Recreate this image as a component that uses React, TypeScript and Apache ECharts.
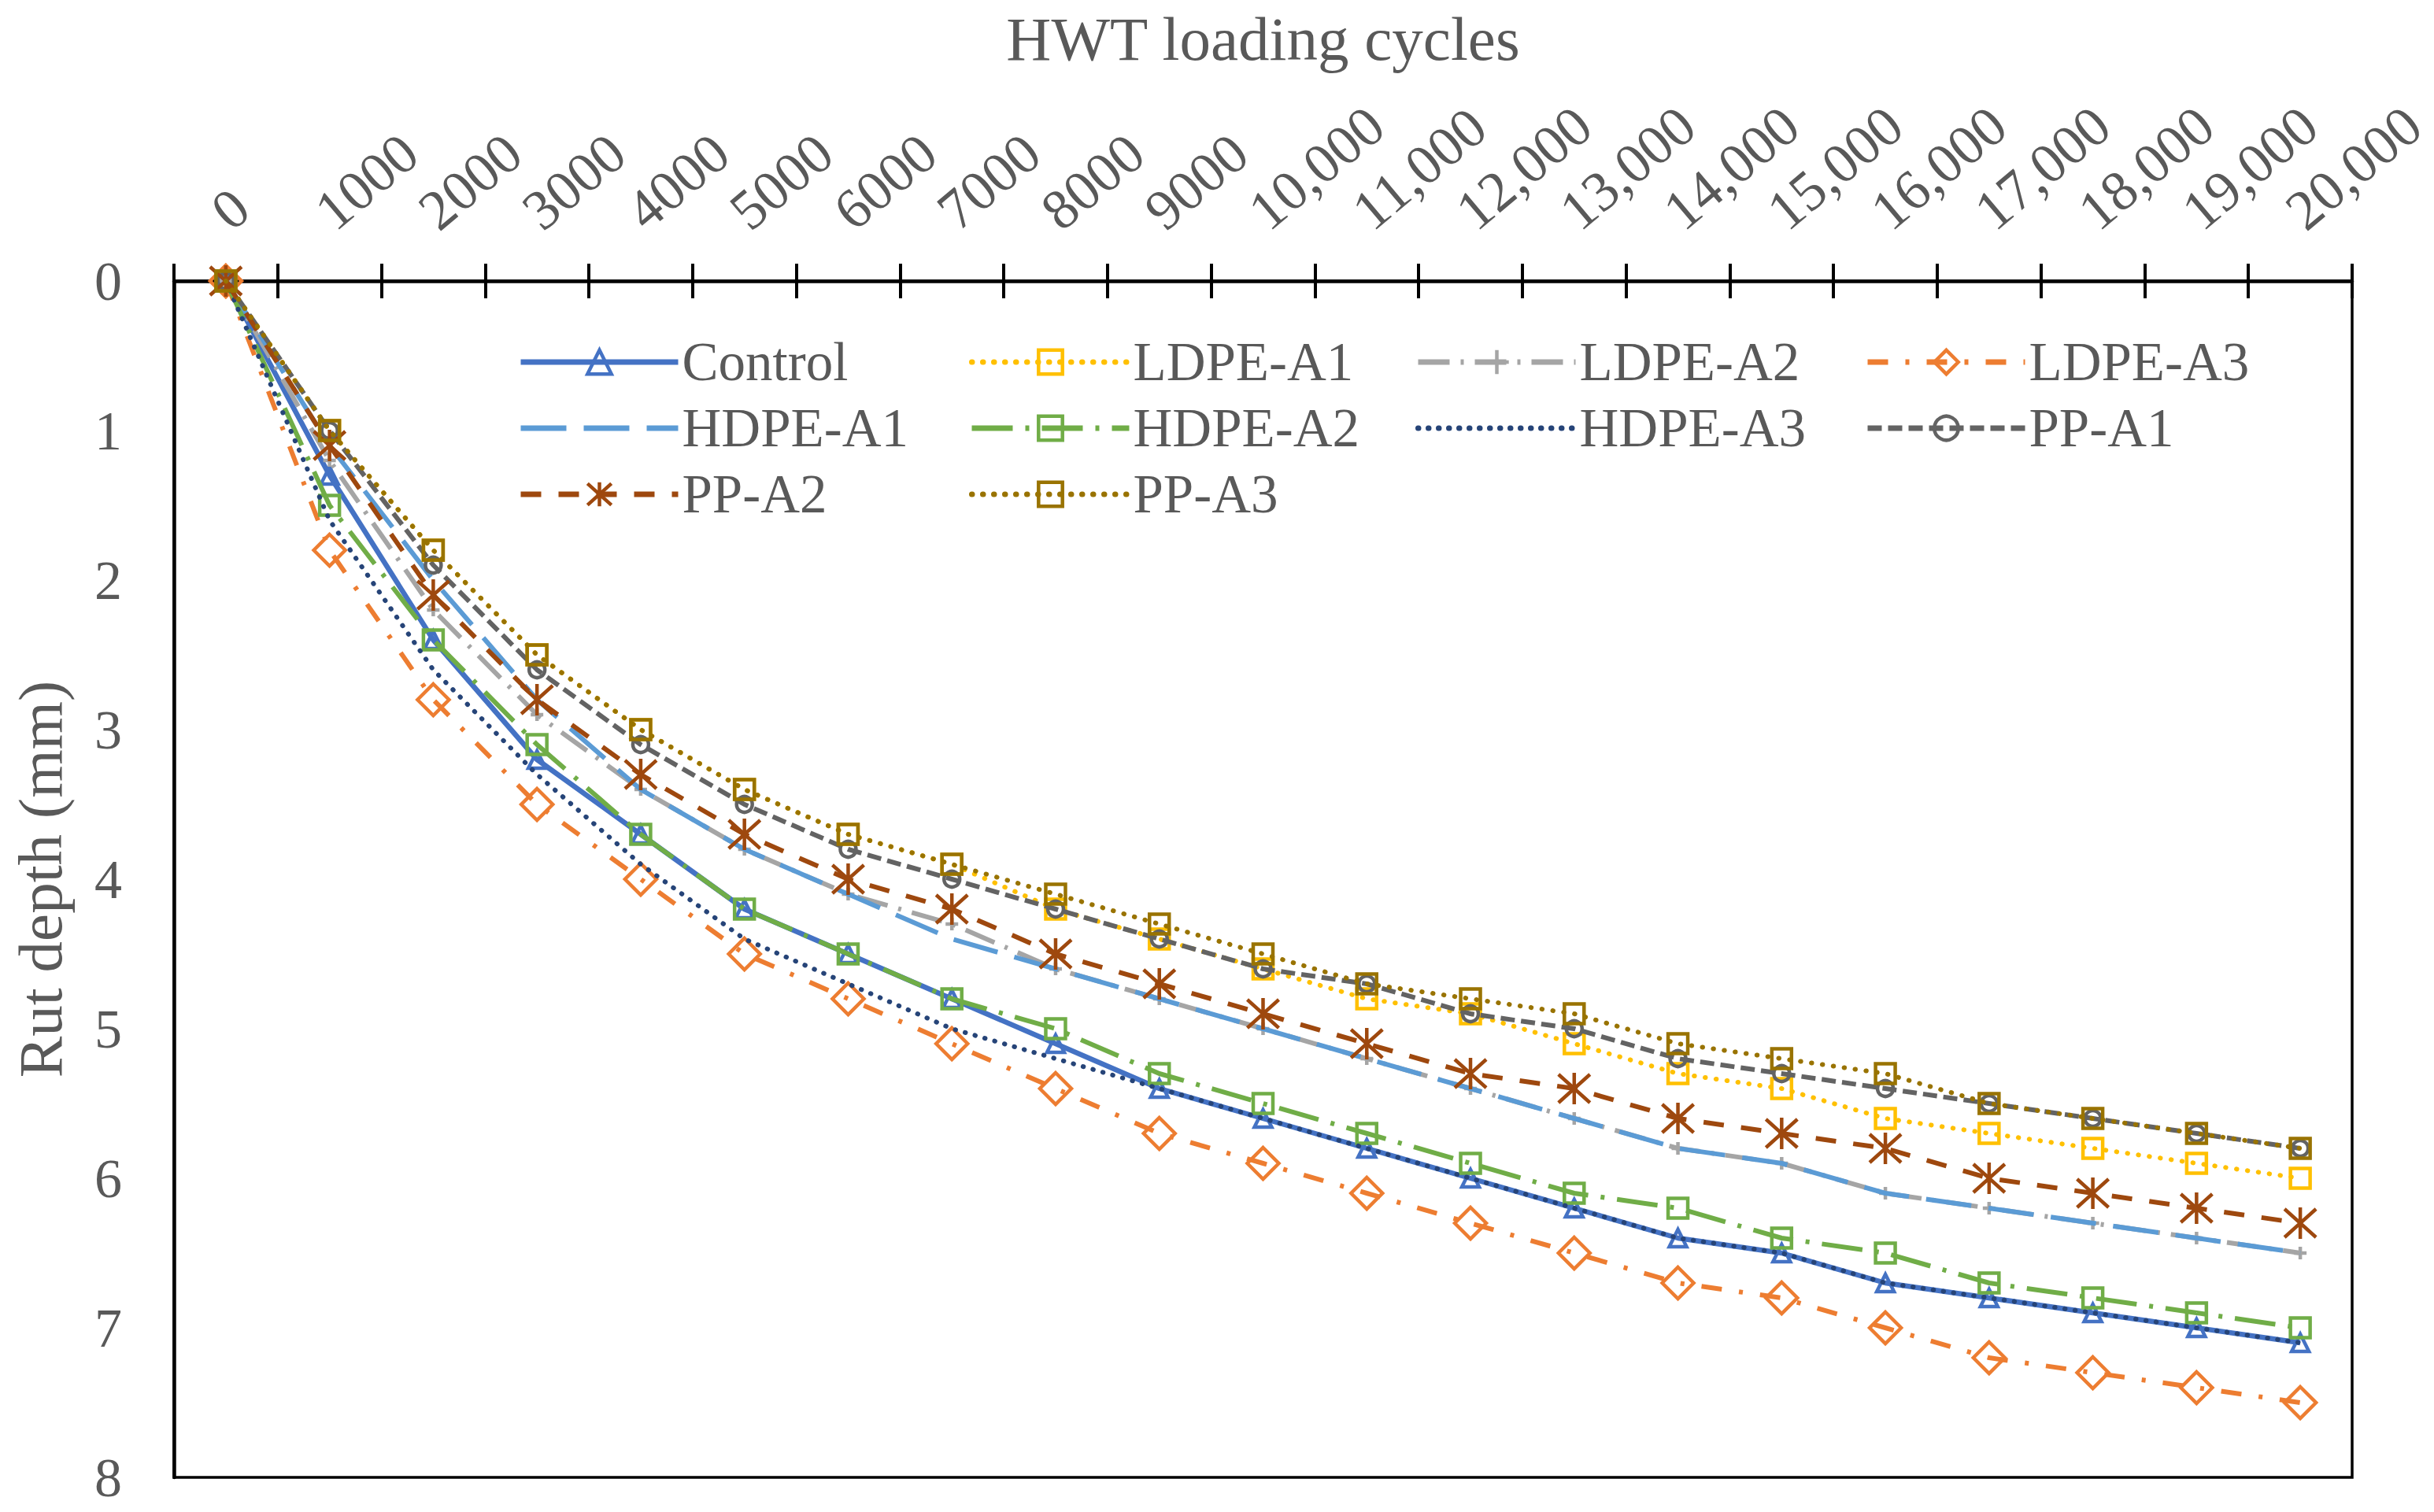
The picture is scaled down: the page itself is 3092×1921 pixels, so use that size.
import React, { useEffect, useRef } from "react";
import * as echarts from "echarts";

// ---------- data ----------
const categories = [
  "0", "1000", "2000", "3000", "4000", "5000", "6000", "7000", "8000", "9000",
  "10,000", "11,000", "12,000", "13,000", "14,000", "15,000", "16,000", "17,000", "18,000", "19,000", "20,000",
];

const control = [0, 1.3, 2.4, 3.2, 3.7, 4.2, 4.5, 4.8, 5.1, 5.4, 5.6, 5.8, 6.0, 6.2, 6.4, 6.5, 6.7, 6.8, 6.9, 7.0, 7.1];
const ldpeA1 = [0, 1.0, 1.8, 2.5, 3.0, 3.4, 3.7, 3.9, 4.2, 4.4, 4.6, 4.8, 4.9, 5.1, 5.3, 5.4, 5.6, 5.7, 5.8, 5.9, 6.0];
const ldpeA2 = [0, 1.2, 2.2, 2.9, 3.4, 3.8, 4.1, 4.3, 4.6, 4.8, 5.0, 5.2, 5.4, 5.6, 5.8, 5.9, 6.1, 6.2, 6.3, 6.4, 6.5];
const ldpeA3 = [0, 1.8, 2.8, 3.5, 4.0, 4.5, 4.8, 5.1, 5.4, 5.7, 5.9, 6.1, 6.3, 6.5, 6.7, 6.8, 7.0, 7.2, 7.3, 7.4, 7.5];
const hdpeA1 = [0, 1.1, 2.0, 2.8, 3.4, 3.8, 4.1, 4.4, 4.6, 4.8, 5.0, 5.2, 5.4, 5.6, 5.8, 5.9, 6.1, 6.2, 6.3, 6.4, 6.5];
const hdpeA2 = [0, 1.5, 2.4, 3.1, 3.7, 4.2, 4.5, 4.8, 5.0, 5.3, 5.5, 5.7, 5.9, 6.1, 6.2, 6.4, 6.5, 6.7, 6.8, 6.9, 7.0];
const hdpeA3 = [0, 1.6, 2.6, 3.3, 3.9, 4.4, 4.7, 5.0, 5.2, 5.4, 5.6, 5.8, 6.0, 6.2, 6.4, 6.5, 6.7, 6.8, 6.9, 7.0, 7.1];
const ppA1 = [0, 1.0, 1.9, 2.6, 3.1, 3.5, 3.8, 4.0, 4.2, 4.4, 4.6, 4.7, 4.9, 5.0, 5.2, 5.3, 5.4, 5.5, 5.6, 5.7, 5.8];
const ppA2 = [0, 1.1, 2.1, 2.8, 3.3, 3.7, 4.0, 4.2, 4.5, 4.7, 4.9, 5.1, 5.3, 5.4, 5.6, 5.7, 5.8, 6.0, 6.1, 6.2, 6.3];
const ppA3 = [0, 1.0, 1.8, 2.5, 3.0, 3.4, 3.7, 3.9, 4.1, 4.3, 4.5, 4.7, 4.8, 4.9, 5.1, 5.2, 5.3, 5.5, 5.6, 5.7, 5.8];

const seriesNames = ["Control", "LDPE-A1", "LDPE-A2", "LDPE-A3", "HDPE-A1", "HDPE-A2", "HDPE-A3", "PP-A1", "PP-A2", "PP-A3"];
const seriesData = [control, ldpeA1, ldpeA2, ldpeA3, hdpeA1, hdpeA2, hdpeA3, ppA1, ppA2, ppA3];

const xTitle = "HWT loading cycles";
const yTitle = "Rut depth (mm)";
const yMin = 0;
const yMax = 8;
const yStep = 1;

// ---------- styling ----------
const W = 3092;
const H = 1921;
const FONT = "'Liberation Serif', 'Times New Roman', serif";
const TXT = "#595959";
const STAR = "path://M10,0L10,20M1,1L19,19M1,19L19,1";
const PLUS = "path://M0,10L20,10M10,0L10,20";

type Sty = { color: string; symbol: string; size: number; dash: any; cap?: string; width?: number };

const styles: Sty[] = [
  { color: "#4472C4", symbol: "triangle", size: 22, dash: "solid", width: 6.5 },
  { color: "#FFC000", symbol: "rect", size: 25, dash: [0.5, 13.5], cap: "round" },
  { color: "#A5A5A5", symbol: PLUS, size: 16, dash: [40, 14, 4, 14] },
  { color: "#ED7D31", symbol: "diamond", size: 40, dash: [26, 22, 5, 22] },
  { color: "#5B9BD5", symbol: "none", size: 0, dash: [58, 22] },
  { color: "#70AD47", symbol: "rect", size: 25, dash: [52, 16, 5, 16] },
  { color: "#264478", symbol: "none", size: 0, dash: [0.5, 12.5], cap: "round" },
  { color: "#636363", symbol: "circle", size: 20, dash: [18, 8] },
  { color: "#9E480E", symbol: STAR, size: 40, dash: [26, 22] },
  { color: "#997300", symbol: "rect", size: 25, dash: [0.5, 13.5], cap: "round" },
];

const LINE_W = 6;
const G_LEFT = 221;
const G_TOP = 357;
const G_W = 2767;
const G_H = 1520;

// legend placement (column left, row centre)
const colLeft = [658, 1231, 1798, 2369];
const rowCenter = [460, 544, 628];
const legendCells = [
  [0, 0], [1, 0], [2, 0], [3, 0],
  [0, 1], [1, 1], [2, 1], [3, 1],
  [0, 2], [1, 2],
];
const LEG_LH = 80;

export default function App() {
  const ref = useRef<HTMLDivElement>(null);

  useEffect(() => {
    if (!ref.current) return;
    const chart = echarts.init(ref.current, null, { renderer: "svg" });

    const series = seriesNames.map((name, i) => {
      const st = styles[i];
      const hasSym = st.symbol !== "none";
      return {
        name,
        type: "line",
        xAxisIndex: 0,
        yAxisIndex: 0,
        data: seriesData[i],
        symbol: st.symbol,
        symbolSize: st.size,
        showSymbol: hasSym,
        showAllSymbol: true,
        lineStyle: {
          color: st.color,
          width: st.width ?? LINE_W,
          type: st.dash,
          cap: st.cap ?? "butt",
        },
        itemStyle: {
          color: "rgba(0,0,0,0)",
          borderColor: hasSym ? st.color : "rgba(0,0,0,0)",
          borderWidth: hasSym ? 4.5 : 0,
        },
        emphasis: { disabled: true },
        silent: true,
        z: 2 + i,
      };
    });

    const legends = seriesNames.map((name, i) => {
      const [c, r] = legendCells[i];
      const st = styles[i];
      return {
        show: true,
        data: [name],
        orient: "horizontal",
        left: colLeft[c],
        top: rowCenter[r] - LEG_LH / 2,
        padding: 0,
        itemWidth: 200,
        itemHeight: 38,
        selectedMode: false,
        textStyle: { fontFamily: FONT, fontSize: 69, color: TXT, lineHeight: LEG_LH },
        lineStyle: { width: 7 },
        itemStyle: { borderWidth: st.symbol !== "none" ? 4.5 : 0 },
      };
    });

    const option: any = {
      animation: false,
      backgroundColor: "#ffffff",
      grid: [
        { left: G_LEFT, top: G_TOP, width: G_W, height: G_H, show: true, borderColor: "#000", borderWidth: 3.5, backgroundColor: "transparent" },
        { left: G_LEFT - 8, top: G_TOP, width: G_W, height: G_H, show: false },
      ],
      legend: legends,
      xAxis: [
        {
          type: "category",
          gridIndex: 0,
          position: "top",
          data: categories,
          boundaryGap: true,
          axisLine: { show: true, lineStyle: { color: "#000", width: 4.5 } },
          axisTick: { show: true, inside: true, length: 22, interval: 0, lineStyle: { color: "#000", width: 4 } },
          axisLabel: { show: false },
          splitLine: { show: false },
          name: xTitle,
          nameLocation: "middle",
          nameGap: 268,
          nameTextStyle: { fontFamily: FONT, fontSize: 79, color: TXT, lineHeight: 79 },
        },
        {
          type: "category",
          gridIndex: 1,
          position: "top",
          data: categories,
          boundaryGap: true,
          axisLine: { show: false },
          axisTick: { show: false },
          splitLine: { show: false },
          axisLabel: { show: true, interval: 0, rotate: 40, margin: 80, fontFamily: FONT, fontSize: 72, color: TXT },
        },
        {
          type: "category",
          gridIndex: 0,
          position: "top",
          data: categories,
          boundaryGap: true,
          axisLine: { show: false },
          axisTick: { show: true, inside: false, length: 22, interval: 0, lineStyle: { color: "#000", width: 4 } },
          axisLabel: { show: false },
          splitLine: { show: false },
        },
      ],
      yAxis: [
        {
          type: "value",
          gridIndex: 0,
          inverse: true,
          min: yMin,
          max: yMax,
          interval: yStep,
          axisLine: { show: true, lineStyle: { color: "#000", width: 4.5 } },
          axisTick: { show: false },
          splitLine: { show: false },
          axisLabel: { fontFamily: FONT, fontSize: 70, color: TXT, margin: 66 },
          name: yTitle,
          nameLocation: "middle",
          nameGap: 130,
          nameRotate: 90,
          nameTextStyle: { fontFamily: FONT, fontSize: 79, color: TXT, lineHeight: 79 },
        },
        { type: "value", gridIndex: 1, show: false, min: yMin, max: yMax },
      ],
      series,
    };

    chart.setOption(option);
    return () => chart.dispose();
  }, []);

  return (
    <div
      ref={ref}
      style={{ position: "fixed", left: 0, top: 0, width: W, height: H, background: "#fff" }}
    />
  );
}
